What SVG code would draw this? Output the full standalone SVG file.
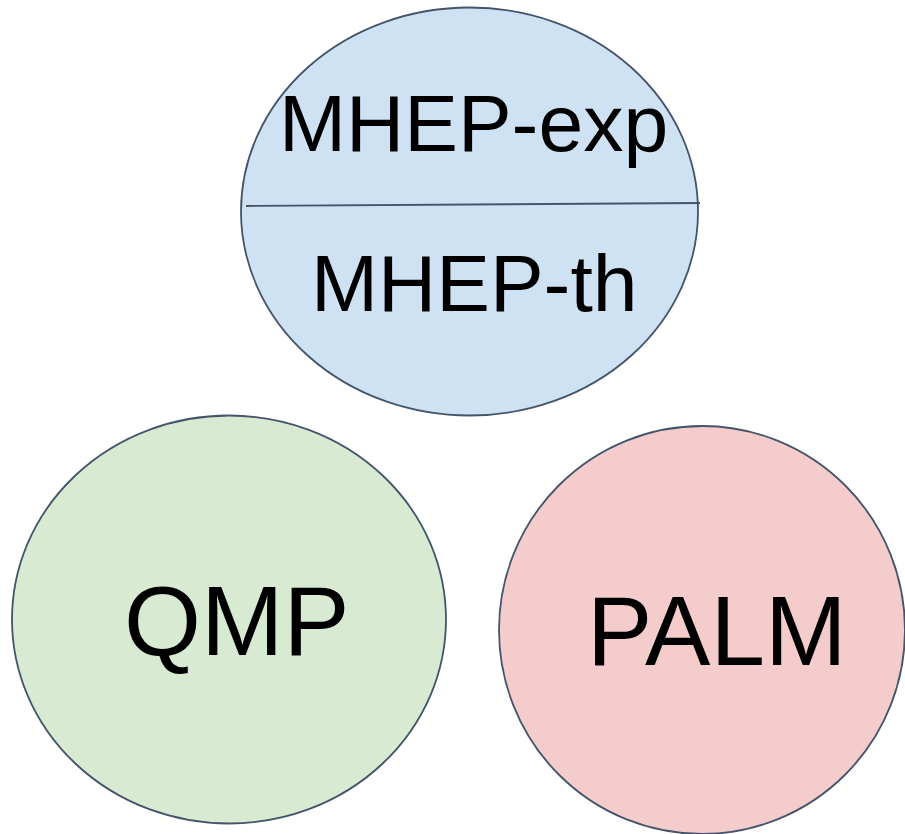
<svg xmlns="http://www.w3.org/2000/svg" width="905" height="834" viewBox="0 0 905 834">
<style>
.n{stroke:#44546a;stroke-width:1.8}
.t{font-family:"Liberation Sans",Arial,sans-serif;fill:#000}
</style>
<rect width="905" height="834" fill="#fff"/>
<g id="mhep">
<ellipse class="n" cx="469.5" cy="211.5" rx="228.5" ry="204" fill="#cfe2f3"/>
<line class="n" x1="246" y1="206" x2="700" y2="203"/>
<text class="t" x="279" y="151" font-size="80.5">MHEP-exp</text>
<text class="t" x="311" y="311" font-size="80.5">MHEP-th</text>
</g>
<g id="qmp">
<ellipse class="n" cx="229" cy="619.5" rx="217" ry="204" fill="#d9ead3"/>
<text class="t" x="124" y="655" font-size="99">QMP</text>
</g>
<g id="palm">
<ellipse class="n" cx="702" cy="630" rx="203" ry="204" fill="#f4cccc"/>
<text class="t" x="587" y="665" font-size="98">PALM</text>
</g>
<g id="connectors"/>
</svg>
